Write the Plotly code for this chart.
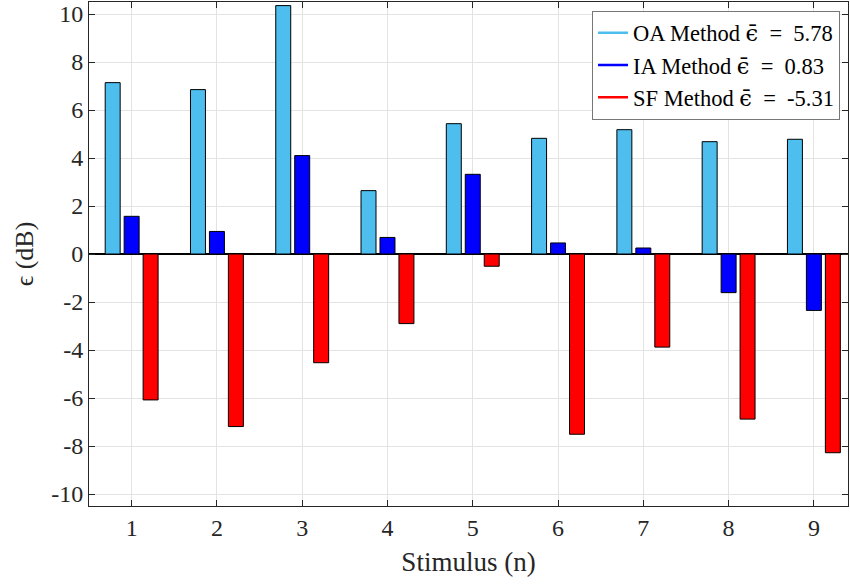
import plotly.graph_objects as go

stimulus = [1, 2, 3, 4, 5, 6, 7, 8, 9]
oa_values = [7.14, 6.85, 10.35, 2.64, 5.43, 4.82, 5.18, 4.68, 4.78]
ia_values = [1.57, 0.94, 4.10, 0.69, 3.32, 0.46, 0.25, -1.61, -2.35]
sf_values = [-6.08, -7.19, -4.53, -2.90, -0.51, -7.51, -3.88, -6.88, -8.28]
EPS_BAR = "<span style='font-family:DejaVu Serif'>\u03f5\u0304</span>"
series_names = ["OA Method " + EPS_BAR + "\u2002=\u20025.78",
                "IA Method " + EPS_BAR + "\u2002=\u20020.83",
                "SF Method " + EPS_BAR + "\u2002=\u2002-5.31"]
y_ticks = [-10, -8, -6, -4, -2, 0, 2, 4, 6, 8, 10]
y_ticktext = ["-10", "-8", "-6", "-4", "-2", "0", "2", "4", "6", "8", "10"]

colors = ["#4DBEEE", "#0000FF", "#FF0000"]
FONT = "Liberation Serif, Times New Roman, Tinos, serif"

fig = go.Figure()
for vals, name, c in zip([oa_values, ia_values, sf_values], series_names, colors):
    fig.add_trace(go.Bar(x=stimulus, y=vals, name=name, marker=dict(color=c, line=dict(color="black", width=1)),
                         showlegend=False))
for name, c in zip(series_names, colors):
    fig.add_trace(go.Scatter(x=[None], y=[None], mode="lines", name=name, line=dict(color=c, width=2.5)))

axis_common = dict(showline=True, linecolor="#262626", linewidth=1, mirror="ticks", ticks="inside",
                   ticklen=6, tickcolor="#262626", showgrid=True, gridcolor="#e3e3e3", gridwidth=1,
                   automargin=False,
                   tickfont=dict(family=FONT, size=24, color="#262626"))

fig.update_layout(
    width=850, height=584,
    margin=dict(l=89, r=2, t=2, b=78),
    paper_bgcolor="white", plot_bgcolor="white",
    barmode="group", bargap=0.333, bargroupgap=0.21,
    font=dict(family=FONT, color="#262626"),
    xaxis=dict(range=[0.5, 9.4], tickvals=stimulus, zeroline=False,
               title=dict(text="Stimulus (n)", font=dict(family=FONT, size=27, color="#262626"), standoff=12),
               **axis_common),
    yaxis=dict(range=[-10.5, 10.5], tickvals=y_ticks, ticktext=y_ticktext, zeroline=True,
               zerolinecolor="black", zerolinewidth=2,
               title=dict(text="\u03f5 (dB)", font=dict(family=FONT, size=26, color="#262626"), standoff=10),
               **axis_common),
    legend=dict(x=0.9895, y=0.983, xanchor="right", yanchor="top", bgcolor="white", bordercolor="#777777",
                borderwidth=1, font=dict(family=FONT, size=22.5, color="black"), tracegroupgap=0,
                itemwidth=30),
)

fig.write_html("out.html", config={"displayModeBar": False},
               post_script="document.body.style.margin='0';document.body.style.padding='0';")
